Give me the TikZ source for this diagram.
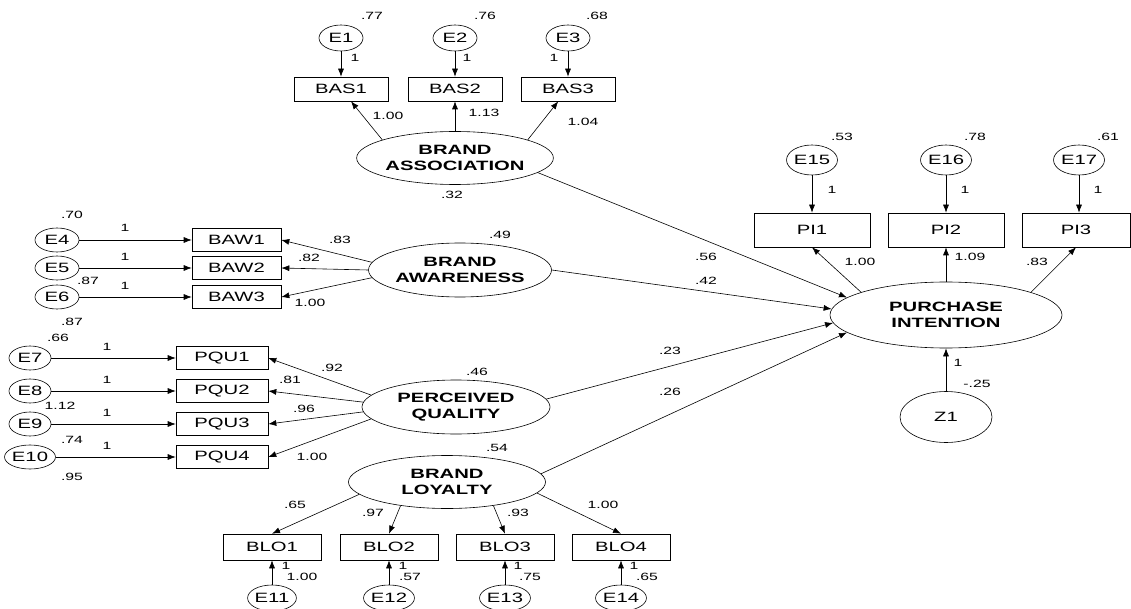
\documentclass[tikz,border=0pt]{standalone}
\usepackage{fontspec}
\setmainfont{Liberation Sans}[FakeStretch=1.5]
\usetikzlibrary{shapes.geometric,arrows.meta}
\begin{document}
\begin{tikzpicture}[x=1pt,y=-1pt,
  err/.style={ellipse,draw,line width=0.6pt,minimum width=44pt,minimum height=26pt,inner sep=0pt,font=\fontsize{13.5}{14}\selectfont},
  obs/.style={rectangle,draw,line width=0.6pt,minimum width=92pt,minimum height=24pt,inner sep=0pt,font=\fontsize{13.5}{14}\selectfont},
  lat/.style={ellipse,draw,line width=0.6pt,inner sep=0pt,align=center,font=\bfseries\fontsize{13.5}{16.5}\selectfont},
  num/.style={inner sep=0pt,font=\fontsize{10.5}{11}\selectfont},
  arr/.style={-{Latex[length=8pt,width=6pt]},line width=0.6pt},
]
\useasboundingbox (0,0) rectangle (1131,609);

% ---------- Brand association ----------
\node[err] (E1) at (341,38) {E1};
\node[err] (E2) at (455,38) {E2};
\node[err] (E3) at (568,38) {E3};
\node[obs,minimum width=94pt] (BAS1) at (341,89) {BAS1};
\node[obs,minimum width=94pt] (BAS2) at (455,89) {BAS2};
\node[obs,minimum width=94pt] (BAS3) at (568,89) {BAS3};
\node[lat,minimum width=194pt,minimum height=53pt] (BA) at (455,158) {BRAND\\ASSOCIATION};
\draw[arr] (E1) -- (BAS1);
\draw[arr] (E2) -- (BAS2);
\draw[arr] (E3) -- (BAS3);
\draw[arr] (BA.166) -- (BAS1);
\draw[arr] (BA) -- (BAS2);
\draw[arr] (BA.14) -- (BAS3);
\node[num] (v1) at (372,16) {.77};
\node[num] (v2) at (485,16) {.76};
\node[num] (v3) at (597,16) {.68};
\node[num] (o1) at (355,58) {1};
\node[num] (o2) at (467,58) {1};
\node[num] (o3) at (554,58) {1};
\node[num] (w1) at (388,116) {1.00};
\node[num] (w2) at (484,113) {1.13};
\node[num] (w3) at (583,122) {1.04};
\node[num] (vBA) at (452,195) {.32};

% ---------- Brand awareness ----------
\node[err,minimum height=24pt] (E4) at (57,240) {E4};
\node[err,minimum height=24pt] (E5) at (57,268) {E5};
\node[err,minimum height=24pt] (E6) at (57,297) {E6};
\node[obs,minimum width=89pt,minimum height=23pt] (BAW1) at (236.5,240) {BAW1};
\node[obs,minimum width=89pt,minimum height=23pt] (BAW2) at (236.5,268) {BAW2};
\node[obs,minimum width=89pt,minimum height=23pt] (BAW3) at (236.5,297) {BAW3};
\node[lat,minimum width=176pt,minimum height=54pt] (BAW) at (460,270) {BRAND\\AWARENESS};
\draw[arr] (E4) -- (BAW1);
\draw[arr] (E5) -- (BAW2);
\draw[arr] (E6) -- (BAW3);
\draw[arr] (BAW.175) -- (BAW1.east);
\draw[arr] (BAW.180) -- (BAW2.east);
\draw[arr] (BAW.185) -- (BAW3.east);
\node[num] (v4) at (72,215) {.70};
\node[num] (v5) at (88,281) {.87};
\node[num] (v6) at (72,322) {.87};
\node[num] (o4) at (125,228) {1};
\node[num] (o5) at (125,257) {1};
\node[num] (o6) at (125,286) {1};
\node[num] (w4) at (340,240) {.83};
\node[num] (w5) at (309,258) {.82};
\node[num] (w6) at (310,303) {1.00};
\node[num] (vBAW) at (500,235) {.49};

% ---------- Perceived quality ----------
\node[err,minimum width=42pt,minimum height=24pt] (E7) at (30,358) {E7};
\node[err,minimum width=42pt,minimum height=24pt] (E8) at (30,391) {E8};
\node[err,minimum width=42pt,minimum height=24pt] (E9) at (30,424) {E9};
\node[err,minimum width=42pt,minimum height=24pt] (E10) at (30,457) {E10};
\node[obs,minimum height=23pt] (PQU1) at (222,358) {PQU1};
\node[obs,minimum height=23pt] (PQU2) at (222,391) {PQU2};
\node[obs,minimum height=23pt] (PQU3) at (222,424) {PQU3};
\node[obs,minimum height=23pt] (PQU4) at (222,457) {PQU4};
\node[lat,minimum width=188pt,minimum height=54pt] (PQ) at (456,407) {PERCEIVED\\QUALITY};
\draw[arr] (E7) -- (PQU1);
\draw[arr] (E8) -- (PQU2);
\draw[arr] (E9) -- (PQU3);
\draw[arr] (E10) -- (PQU4);
\draw[arr] (PQ.172) -- (PQU1.east);
\draw[arr] (PQ.177) -- (PQU2.east);
\draw[arr] (PQ.183) -- (PQU3.east);
\draw[arr] (PQ.188) -- (PQU4.east);
\node[num] (v7) at (58,338) {.66};
\node[num] (v8) at (60,406) {1.12};
\node[num] (v9) at (72,440) {.74};
\node[num] (v10) at (72,477) {.95};
\node[num] (o7) at (107,347) {1};
\node[num] (o8) at (107,380) {1};
\node[num] (o9) at (107,413) {1};
\node[num] (o10) at (107,446) {1};
\node[num] (w7) at (332,368) {.92};
\node[num] (w8) at (290,380) {.81};
\node[num] (w9) at (304,409) {.96};
\node[num] (w10) at (312,457) {1.00};
\node[num] (vPQ) at (477,372) {.46};

% ---------- Brand loyalty ----------
\node[lat,minimum width=197pt,minimum height=53pt] (BL) at (447,482) {BRAND\\LOYALTY};
\node[obs,minimum width=98pt,minimum height=26pt] (BLO1) at (272,547) {BLO1};
\node[obs,minimum width=98pt,minimum height=26pt] (BLO2) at (389,547) {BLO2};
\node[obs,minimum width=98pt,minimum height=26pt] (BLO3) at (505,547) {BLO3};
\node[obs,minimum width=98pt,minimum height=26pt] (BLO4) at (621,547) {BLO4};
\node[err,minimum width=46pt] (E11) at (272,598) {E11};
\node[err,minimum width=46pt] (E12) at (389,598) {E12};
\node[err,minimum width=46pt] (E13) at (505,598) {E13};
\node[err,minimum width=46pt] (E14) at (621,598) {E14};
\draw[arr] (BL.188) -- (BLO1.north);
\draw[arr] (BL.207) -- (BLO2.north);
\draw[arr] (BL.-27) -- (BLO3.north);
\draw[arr] (BL.-7) -- (BLO4.north);
\draw[arr] (E11) -- (BLO1);
\draw[arr] (E12) -- (BLO2);
\draw[arr] (E13) -- (BLO3);
\draw[arr] (E14) -- (BLO4);
\node[num] (vBL) at (497,448) {.54};
\node[num] (w11) at (295,505) {.65};
\node[num] (w12) at (373,513) {.97};
\node[num] (w13) at (518,513) {.93};
\node[num] (w14) at (603,505) {1.00};
\node[num] (o11) at (286,566) {1};
\node[num] (o12) at (403,566) {1};
\node[num] (o13) at (518,566) {1};
\node[num] (o14) at (634,566) {1};
\node[num] (v11) at (302,577) {1.00};
\node[num] (v12) at (410,577) {.57};
\node[num] (v13) at (530,577) {.75};
\node[num] (v14) at (647,577) {.65};

% ---------- Purchase intention ----------
\node[err,minimum width=46pt,minimum height=30pt] (E15) at (812,160) {E15};
\node[err,minimum width=46pt,minimum height=30pt] (E16) at (946,160) {E16};
\node[err,minimum width=46pt,minimum height=30pt] (E17) at (1079,160) {E17};
\node[obs,minimum width=116pt,minimum height=34pt] (PI1) at (812,230) {PI1};
\node[obs,minimum width=116pt,minimum height=34pt] (PI2) at (946,230) {PI2};
\node[obs,minimum width=108pt,minimum height=34pt] (PI3) at (1076,230) {PI3};
\node[lat,minimum width=232pt,minimum height=66pt] (PU) at (946,315) {PURCHASE\\INTENTION};
\node[err,minimum width=92pt,minimum height=51pt] (Z1) at (946,417) {Z1};
\draw[arr] (E15) -- (PI1);
\draw[arr] (E16) -- (PI2);
\draw[arr] (E17) -- (E17 |- PI3.north);
\draw[arr] (PU.165) -- (PI1.south);
\draw[arr] (PU) -- (PI2);
\draw[arr] (PU.15) -- (PI3.south);
\draw[arr] (Z1) -- (PU);
\node[num] (v15) at (842,137) {.53};
\node[num] (v16) at (975,137) {.78};
\node[num] (v17) at (1108,137) {.61};
\node[num] (o15) at (832,190) {1};
\node[num] (o16) at (965,190) {1};
\node[num] (o17) at (1098,190) {1};
\node[num] (w15) at (860,262) {1.00};
\node[num] (w16) at (970,257) {1.09};
\node[num] (w17) at (1037,262) {.83};
\node[num] (oz) at (958,363) {1};
\node[num] (vz) at (977,384) {-.25};

% ---------- Structural paths ----------
\draw[arr] (BA.-10) -- (PU.170);
\draw[arr] (BAW.east) -- (PU.177);
\draw[arr] (PQ.5) -- (PU.184);
\draw[arr] (BL.5) -- (PU.190);
\node[num] (s1) at (706,257) {.56};
\node[num] (s2) at (706,281) {.42};
\node[num] (s3) at (670,351) {.23};
\node[num] (s4) at (670,392) {.26};
\end{tikzpicture}
\end{document}
